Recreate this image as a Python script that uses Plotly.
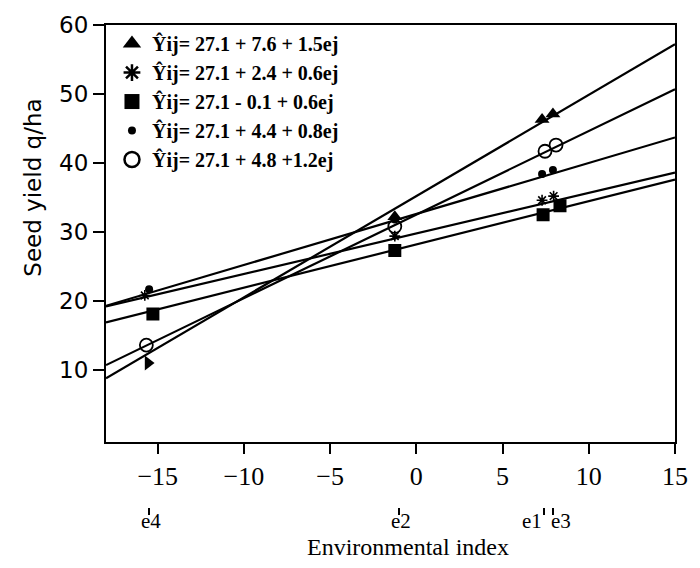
import plotly.graph_objects as go

# ---- data ----
env_labels = ["e4", "e2", "e1", "e3"]
env_index = [-15.5, -1.0, 7.4, 7.9]

eq_labels = [
    "Ŷij= 27.1 + 7.6 + 1.5ej",
    "Ŷij= 27.1 + 2.4 + 0.6ej",
    "Ŷij= 27.1 - 0.1 + 0.6ej",
    "Ŷij= 27.1 + 4.4 + 0.8ej",
    "Ŷij= 27.1 + 4.8 +1.2ej",
]

tri_x = [-15.56, -1.25, 7.29, 7.92]
tri_y = [11.0, 32.2, 46.3, 47.1]
ast_x = [-15.75, -1.25, 7.29, 7.96]
ast_y = [20.8, 29.4, 34.6, 35.2]
sq_x = [-15.28, -1.25, 7.35, 8.33]
sq_y = [18.1, 27.3, 32.5, 33.8]
dot_x = [-15.5, -1.25, 7.29, 7.92]
dot_y = [21.7, 31.8, 38.4, 39.0]
circ_x = [-15.66, -1.25, 7.46, 8.1]
circ_y = [13.6, 30.8, 41.7, 42.6]

line_x = [-18, 15]
tri_line = [8.8, 57.2]
ast_line = [19.2, 38.6]
sq_line = [16.9, 37.6]
dot_line = [19.3, 43.7]
circ_line = [10.7, 50.7]

x_ticks = [-15, -10, -5, 0, 5, 10, 15]
y_ticks = [10, 20, 30, 40, 50, 60]
y_range = [-0.4, 60]

# ---- figure ----
fig = go.Figure()

for ly in [tri_line, ast_line, sq_line, dot_line, circ_line]:
    fig.add_trace(go.Scatter(x=line_x, y=ly, mode="lines",
                             line=dict(color="black", width=2.2),
                             showlegend=False, hoverinfo="skip"))

series = [
    (tri_x, tri_y, ["triangle-right", "triangle-up", "triangle-up", "triangle-up"], 13, 0),
    (ast_x, ast_y, "asterisk-open", 9, 1.6),
    (sq_x, sq_y, "square", 13, 0),
    (dot_x, dot_y, "circle", 8, 0),
    (circ_x, circ_y, "circle-open", 13, 1.8),
]
for sx, sy, sym, size, lw in series:
    fig.add_trace(go.Scatter(x=sx, y=sy, mode="markers",
                             marker=dict(symbol=sym, size=size, color="black",
                                         line=dict(color="black", width=lw)),
                             showlegend=False))

legend_syms = [("triangle-up", 18, 0), ("asterisk-open", 14, 2.5),
               ("square", 15, 0), ("circle", 8, 0), ("circle-open", 15, 2.5)]
for i, ((sym, size, lw), lab) in enumerate(zip(legend_syms, eq_labels)):
    fig.add_trace(go.Scatter(x=[None], y=[None], mode="markers", name=lab,
                             legendgroup=f"g{i}",
                             marker=dict(symbol=sym, size=size, color="black",
                                         line=dict(color="black", width=lw))))

# environmental index axis (below the main axis)
fig.add_trace(go.Scatter(x=env_index, y=[None] * len(env_index), xaxis="x2",
                         mode="markers", showlegend=False, hoverinfo="skip"))

fig.update_layout(
    width=700, height=568,
    margin=dict(l=106, r=21, t=20, b=61),
    paper_bgcolor="white", plot_bgcolor="white",
    font=dict(family="Liberation Serif", color="black"),
    showlegend=True,
    legend=dict(x=0.0105, y=1.002, xanchor="left", yanchor="top",
                bgcolor="rgba(0,0,0,0)", tracegroupgap=0,
                font=dict(family="Liberation Serif", size=20, color="black", weight="bold"),
                itemsizing="trace"),
    xaxis=dict(range=line_x, tickvals=x_ticks, ticks="outside", ticklen=10,
               tickwidth=2, tickcolor="black",
               showline=True, linecolor="black", linewidth=2, mirror=True,
               showgrid=False, zeroline=False, anchor="y",
               tickfont=dict(family="Liberation Serif", size=26, color="black")),
    yaxis=dict(range=y_range, tickvals=y_ticks, ticks="outside", ticklen=11,
               tickwidth=2, tickcolor="black", domain=[0.1355, 1],
               showline=True, linecolor="black", linewidth=2, mirror=True,
               showgrid=False, zeroline=False,
               tickfont=dict(family="DejaVu Sans", size=23, color="black")),
    xaxis2=dict(range=line_x, overlaying="x", anchor="free", position=0,
                tickvals=env_index, showticklabels=False, ticks="outside",
                ticklen=7, tickwidth=1.5, tickcolor="black",
                showline=False, showgrid=False, zeroline=False),
)

label_shift = [2, 2, -12, 8]
for ev, lab, sh in zip(env_index, env_labels, label_shift):
    fig.add_annotation(text=lab, xref="x", yref="paper", x=ev, y=-0.0575,
                       xshift=sh, showarrow=False,
                       font=dict(family="Liberation Serif", size=21, color="black"))

fig.add_annotation(text="Environmental index", xref="paper", yref="paper",
                   x=0.53, y=-0.1150, showarrow=False,
                   font=dict(family="Liberation Serif", size=24, color="black"))
fig.add_annotation(text="Seed yield q/ha", xref="paper", yref="paper",
                   x=-0.155, y=0.662, showarrow=False, textangle=-90,
                   font=dict(family="DejaVu Sans", size=23, color="black"))

fig.write_html("out.html", config={"displayModeBar": False},
               post_script="document.body.style.margin='0px';")
